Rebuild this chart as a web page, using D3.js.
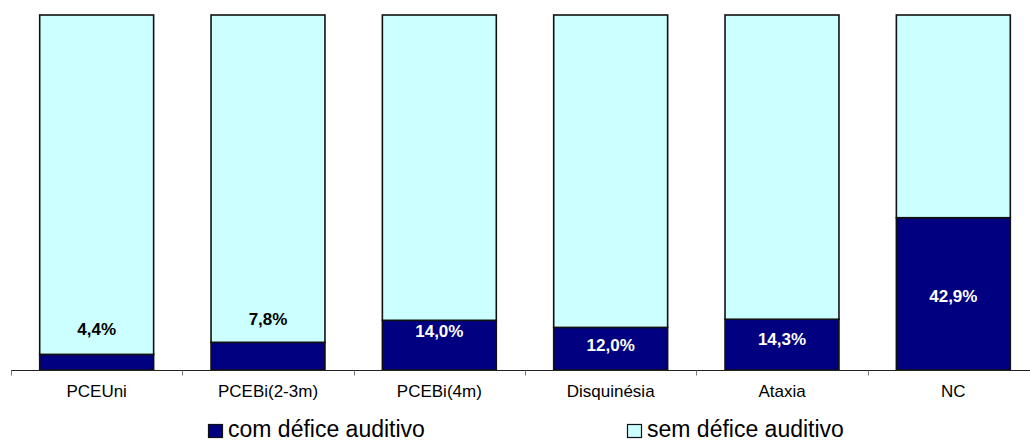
<!DOCTYPE html>
<html>
<head>
<meta charset="utf-8">
<script src="https://cdn.jsdelivr.net/npm/d3@7"></script>
<style>
  html, body { margin: 0; padding: 0; background: #fff; }
  svg { display: block; font-family: "Liberation Sans", Arial, sans-serif; }
</style>
</head>
<body>
<svg id="chart" width="1030" height="443"></svg>
<script>
// Share of each group with / without hearing deficit (percent)
const categories = ["PCEUni", "PCEBi(2-3m)", "PCEBi(4m)", "Disquinésia", "Ataxia", "NC"];
const comDefice = [4.4, 7.8, 14.0, 12.0, 14.3, 42.9];
const semDefice = [95.6, 92.2, 86.0, 88.0, 85.7, 57.1];
const seriesNames = ["com défice auditivo", "sem défice auditivo"];
const valueLabels = ["4,4%", "7,8%", "14,0%", "12,0%", "14,3%", "42,9%"];

// Layout: height (in axis percent) at which each value label sits
const labelAt = [11.5, 14.4, 11.0, 7.0, 8.7, 20.9];
const colors = ["#000080", "#CCFFFF"];

const svg = d3.select("#chart");

const x = d3.scaleBand()
  .domain(categories)
  .range([11, 1039])
  .paddingInner(0.335)
  .paddingOuter(0.1675);

const y = d3.scaleLinear().domain([0, 100]).range([370, 15]);

const rows = categories.map((c, i) => ({ cat: c, com: comDefice[i], sem: semDefice[i] }));
const stack = d3.stack().keys(["com", "sem"])(rows);

const g = svg.append("g");

g.selectAll("g.series")
  .data(stack)
  .join("g")
  .attr("class", "series")
  .attr("fill", (d, i) => colors[i])
  .selectAll("rect")
  .data(d => d)
  .join("rect")
  .attr("x", d => x(d.data.cat))
  .attr("width", x.bandwidth())
  .attr("y", d => y(d[1]))
  .attr("height", d => y(d[0]) - y(d[1]))
  .attr("stroke", "#111")
  .attr("stroke-width", 1.6);

// Category axis with ticks between bands
const axisY = 370.5;
svg.append("line")
  .attr("x1", 11).attr("x2", 1039)
  .attr("y1", axisY).attr("y2", axisY)
  .attr("stroke", "#222").attr("stroke-width", 1);

const boundaries = d3.range(categories.length + 1).map(i => 11 + i * x.step());
svg.selectAll("line.tick")
  .data(boundaries)
  .join("line")
  .attr("class", "tick")
  .attr("x1", d => Math.round(d) + 0.5).attr("x2", d => Math.round(d) + 0.5)
  .attr("y1", axisY).attr("y2", axisY + 5)
  .attr("stroke", "#777").attr("stroke-width", 1);

svg.selectAll("text.cat")
  .data(categories)
  .join("text")
  .attr("class", "cat")
  .attr("x", d => x(d) + x.bandwidth() / 2)
  .attr("y", 397)
  .attr("text-anchor", "middle")
  .attr("font-size", 17)
  .attr("fill", "#000")
  .text(d => d);

// Value labels: white inside the dark segment, black above it
svg.selectAll("text.val")
  .data(rows)
  .join("text")
  .attr("class", "val")
  .attr("x", d => x(d.cat) + x.bandwidth() / 2)
  .attr("y", (d, i) => y(labelAt[i]) + 6)
  .attr("text-anchor", "middle")
  .attr("font-size", 17)
  .attr("font-weight", "bold")
  .attr("fill", (d, i) => labelAt[i] < d.com ? "#fff" : "#000")
  .text((d, i) => valueLabels[i]);

// Legend
const legendX = [208, 627];
const legend = svg.selectAll("g.legend")
  .data(seriesNames)
  .join("g")
  .attr("class", "legend")
  .attr("transform", (d, i) => `translate(${legendX[i]},0)`);

legend.append("rect")
  .attr("x", 0.5).attr("y", 424.5)
  .attr("width", 14).attr("height", 13)
  .attr("fill", (d, i) => colors[i])
  .attr("stroke", "#111").attr("stroke-width", 1.2);

legend.append("text")
  .attr("x", 20)
  .attr("y", 437)
  .attr("font-size", 23)
  .attr("fill", "#000")
  .text(d => d);
</script>
</body>
</html>
